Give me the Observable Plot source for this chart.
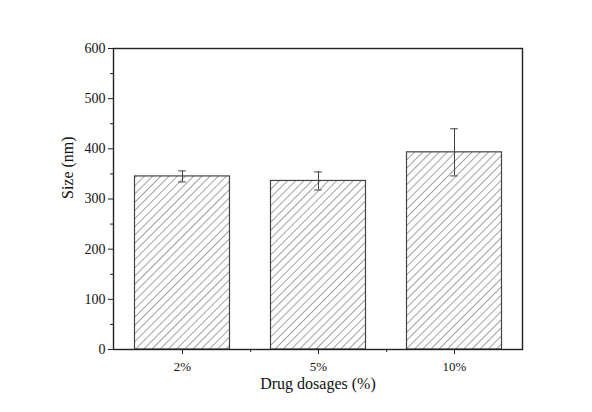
<!DOCTYPE html>
<html>
<head>
<meta charset="utf-8">
<script src="https://cdn.jsdelivr.net/npm/d3@7"></script>
<script src="https://cdn.jsdelivr.net/npm/@observablehq/plot@0.6"></script>
<style>
  html, body { margin: 0; padding: 0; background: #fff; }
</style>
</head>
<body>
<div id="chart"></div>
<script>
const categories = ["2%", "5%", "10%"];
const sizes = [345, 336, 393];
const errors = [11, 18, 47];
const yTicks = [0, 100, 200, 300, 400, 500, 600];
const yMinorTicks = [50, 150, 250, 350, 450, 550];

const data = categories.map((c, i) => ({cat: c, size: sizes[i], err: errors[i]}));

const W = 592, H = 412;
const mL = 113, mR = 70, mT = 48, mB = 63;
const bandW = (W - mL - mR) / categories.length;
const font = "'Liberation Serif', 'Times New Roman', serif";

const plot = Plot.plot({
  width: W,
  height: H,
  marginLeft: mL,
  marginRight: mR,
  marginTop: mT,
  marginBottom: mB,
  style: {fontFamily: font, fontSize: "14px", color: "#111", background: "#fff"},
  x: {domain: categories, padding: 0, label: null},
  y: {domain: [0, 600], label: null},
  marks: [
    Plot.barY(data, {x: "cat", y: "size", fill: "url(#hatch)", stroke: "#444", strokeWidth: 1.2, insetLeft: 20.5, insetRight: 20.5}),
    Plot.ruleX(data, {x: "cat", y1: d => d.size - d.err, y2: d => d.size + d.err, stroke: "#444", strokeWidth: 1}),
    Plot.tickY(data, {x: "cat", y: d => d.size - d.err, stroke: "#444", strokeWidth: 1, insetLeft: bandW/2 - 4, insetRight: bandW/2 - 4}),
    Plot.tickY(data, {x: "cat", y: d => d.size + d.err, stroke: "#444", strokeWidth: 1, insetLeft: bandW/2 - 4, insetRight: bandW/2 - 4}),
    Plot.frame({stroke: "#222", strokeWidth: 1.4}),
    Plot.axisY(yTicks, {tickSize: 5, tickPadding: 3, stroke: "#222", fontSize: 14, label: null}),
    Plot.axisY(yMinorTicks, {tickSize: 3, text: null, stroke: "#222"}),
    Plot.axisX(categories, {tickSize: 5, tickPadding: 7, stroke: "#222", fontSize: 13, label: null}),
    Plot.axisX(categories.slice(0, 2), {tickSize: 3, text: null, stroke: "#222", dx: bandW / 2}),
    Plot.text(["Drug dosages (%)"], {frameAnchor: "bottom", dy: 39, fontSize: 16, fill: "#111"}),
    Plot.text(["Size (nm)"], {frameAnchor: "left", dx: -46, rotate: -90, fontSize: 16, fill: "#111"})
  ]
});

// hatch pattern definition
const ns = "http://www.w3.org/2000/svg";
const defs = document.createElementNS(ns, "defs");
const pat = document.createElementNS(ns, "pattern");
pat.setAttribute("id", "hatch");
pat.setAttribute("patternUnits", "userSpaceOnUse");
pat.setAttribute("width", "5.8");
pat.setAttribute("height", "5.8");
pat.setAttribute("patternTransform", "rotate(45)");
const bg = document.createElementNS(ns, "rect");
bg.setAttribute("width", "5.8"); bg.setAttribute("height", "5.8"); bg.setAttribute("fill", "#fff");
const ln = document.createElementNS(ns, "line");
ln.setAttribute("x1", "0"); ln.setAttribute("y1", "0");
ln.setAttribute("x2", "0"); ln.setAttribute("y2", "5.8");
ln.setAttribute("stroke", "#555"); ln.setAttribute("stroke-width", "1.1");
pat.appendChild(bg); pat.appendChild(ln);
defs.appendChild(pat);
plot.insertBefore(defs, plot.firstChild);

document.getElementById("chart").appendChild(plot);
</script>
</body>
</html>
